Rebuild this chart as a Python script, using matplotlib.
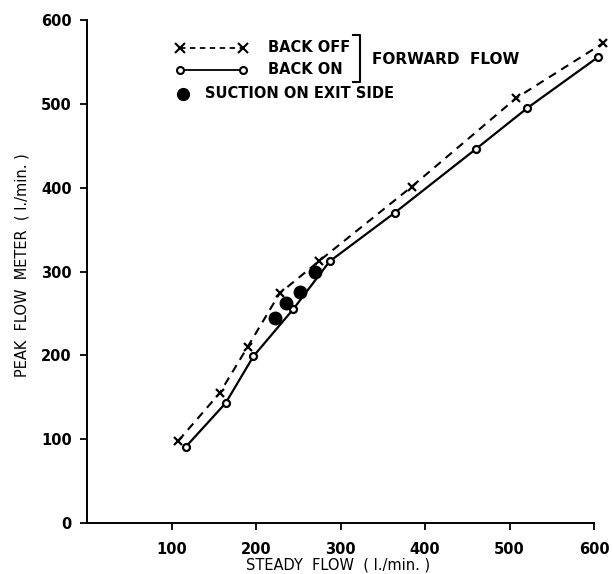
# plot.py
#       Peak flow meter reading against steady flow, back off / back on

import matplotlib
matplotlib.use("Agg")
import matplotlib.pyplot as plt
from matplotlib.lines import Line2D


# Readings taken off the original figure (l./min.)
back_off_x = [108, 157, 190, 228, 274, 384, 508, 610]
back_off_y = [98, 155, 210, 274, 312, 401, 507, 572]

back_on_x = [117, 164, 197, 244, 287, 364, 460, 521, 605]
back_on_y = [91, 143, 199, 255, 312, 370, 446, 495, 556]

suction_x = [223, 236, 252, 270]
suction_y = [245, 262, 276, 299]

x_ticks = [100, 200, 300, 400, 500, 600]
y_ticks = [0, 100, 200, 300, 400, 500, 600]

W, H = 613, 574
plt.rcParams['font.family'] = ['DejaVu Sans']


def px(x, y):
        # pixel position (from top left) -> figure fraction
        return x / W, 1 - y / H


fig = plt.figure(figsize=(W / 100, H / 100), dpi=100)
ax = fig.add_axes([87 / W, 51 / H, (611 - 87) / W, (523 - 20) / H])

ax.plot(back_off_x, back_off_y, color='k', lw=1.5, ls=(0, (4, 3)),
        marker='x', ms=6, mew=1.6, clip_on=False)
ax.plot(back_on_x, back_on_y, color='k', lw=1.6, ls='-',
        marker='o', ms=5, mew=1.6, mfc='white', clip_on=False)
ax.plot(suction_x, suction_y, ls='none', marker='o', ms=9, color='k')

ax.set_xlim(0, 620)
ax.set_ylim(0, 600)
ax.spines['top'].set_visible(False)
ax.spines['right'].set_visible(False)
ax.spines['bottom'].set_bounds(0, 600)
for s in ('left', 'bottom'):
        ax.spines[s].set_linewidth(1.4)

ax.set_xticks(x_ticks)
ax.set_yticks(y_ticks)
ax.tick_params(direction='out', length=5, width=1.3)
ax.tick_params(axis='x', pad=9)
ax.tick_params(axis='y', pad=6)
for lab in ax.get_xticklabels() + ax.get_yticklabels():
        lab.set_fontweight('bold')
        lab.set_fontsize(10.5)

fig.text(*px(338, 565), "STEADY  FLOW  ( l./min. )", ha='center', va='center',
         fontsize=10.5)
fig.text(*px(22, 265), "PEAK  FLOW  METER  ( l./min. )", ha='center', va='center',
         rotation=90, fontsize=10.5)


# Hand drawn style key
def key_line(y, marker, ls, mfc, ms):
        x0, y0 = px(180, y)
        x1, _ = px(243, y)
        fig.add_artist(Line2D([x0, x1], [y0, y0], transform=fig.transFigure,
                              color='k', lw=1.3, ls=ls, marker=marker, ms=ms,
                              mew=1.5, mfc=mfc))

key_line(48, 'x', (0, (3, 2.5)), 'k', 6.5)
key_line(70, 'o', '-', 'white', 5)
fig.add_artist(Line2D([px(183, 0)[0]], [px(0, 94)[1]], transform=fig.transFigure,
                      ls='none', marker='o', ms=8.5, color='k'))

fig.text(*px(268, 48), "BACK OFF", ha='left', va='center', fontsize=10.5, fontweight='bold')
fig.text(*px(268, 70), "BACK ON", ha='left', va='center', fontsize=10.5, fontweight='bold')
fig.text(*px(205, 94), "SUCTION ON EXIT SIDE", ha='left', va='center', fontsize=10.5,
         fontweight='bold')

# bracket
bx, _ = px(360, 0)
bl, _ = px(353, 0)
_, bt = px(0, 35)
_, bb = px(0, 82)
fig.add_artist(Line2D([bl, bx, bx, bl], [bt, bt, bb, bb], transform=fig.transFigure,
                      color='k', lw=1.5))
fig.text(*px(372, 59), "FORWARD  FLOW", ha='left', va='center', fontsize=11,
         fontweight='bold')

fig.savefig("out.png", dpi=100)
